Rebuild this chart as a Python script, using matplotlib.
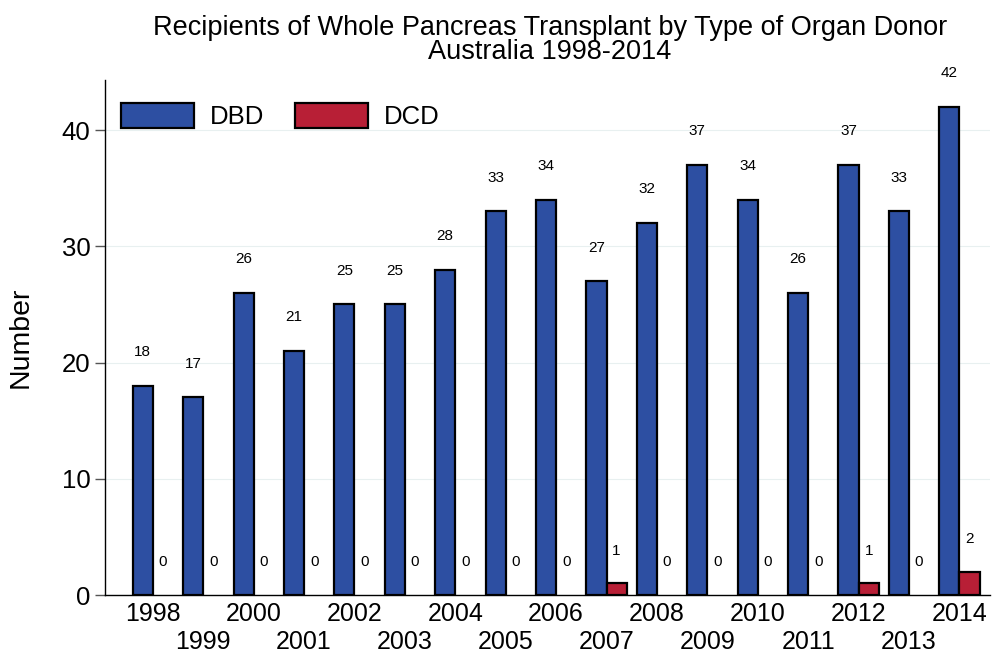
import numpy as np
import matplotlib.pyplot as plt

plt.rcParams['font.family'] = ['Liberation Sans', 'DejaVu Sans']

years = list(range(1998, 2015))
dbd = [18, 17, 26, 21, 25, 25, 28, 33, 34, 27, 32, 37, 34, 26, 37, 33, 42]
dcd = [0, 0, 0, 0, 0, 0, 0, 0, 0, 1, 0, 0, 0, 0, 1, 0, 2]

blue = '#2d4fa2'
red = '#b81f36'

fig = plt.figure(figsize=(9.94, 6.55), dpi=100)
ax = fig.add_axes([0.1056, 0.0916, 0.890, 0.786])

x = np.arange(len(years))
w = 0.4
ax.bar(x - w / 2, dbd, w, color=blue, edgecolor='black', linewidth=1.6, label='DBD', zorder=3)
# zero-height bars get no outline
ax.bar(x + w / 2, dcd, w, color=red, edgecolor='black',
       linewidth=[1.6 if v > 0 else 0 for v in dcd], label='DCD', zorder=3)

# value labels above each bar
for xi, v in zip(x - w / 2, dbd):
    ax.text(xi, v + 2.9, str(v), ha='center', va='center', fontsize=11)
for xi, v in zip(x + w / 2, dcd):
    ax.text(xi, v + 2.8, str(v), ha='center', va='center', fontsize=11)

ax.set_xlim(-0.95, 16.6)
ax.set_ylim(0, 44.3)
ax.set_yticks([0, 10, 20, 30, 40])
ax.set_xticks(x)
ax.set_xticklabels([str(y) if i % 2 == 0 else '\n' + str(y) for i, y in enumerate(years)])
ax.tick_params(axis='x', length=0, labelsize=18, pad=5)
ax.tick_params(axis='y', length=7, width=1, labelsize=18.5, direction='out', color='#555555')
ax.grid(axis='y', color='#e8f0f0', linewidth=0.8, zorder=0)

for s in ['top', 'right']:
    ax.spines[s].set_visible(False)
ax.spines['left'].set_linewidth(1)
ax.spines['bottom'].set_linewidth(1)

ax.set_ylabel('Number', fontsize=20.5, labelpad=20)
fig.text(0.553, 0.958, 'Recipients of Whole Pancreas Transplant by Type of Organ Donor',
         ha='center', va='center', fontsize=19.5)
fig.text(0.553, 0.921, 'Australia 1998-2014', ha='center', va='center', fontsize=19.5)

leg = ax.legend(loc='upper left', ncol=2, frameon=False, fontsize=18.5,
                handlelength=2.85, handleheight=1.1, columnspacing=1.2,
                handletextpad=0.6, bbox_to_anchor=(-0.008, 1.0))
for h in leg.legend_handles:
    h.set_linewidth(1.6)

fig.savefig('out.png', dpi=100)
